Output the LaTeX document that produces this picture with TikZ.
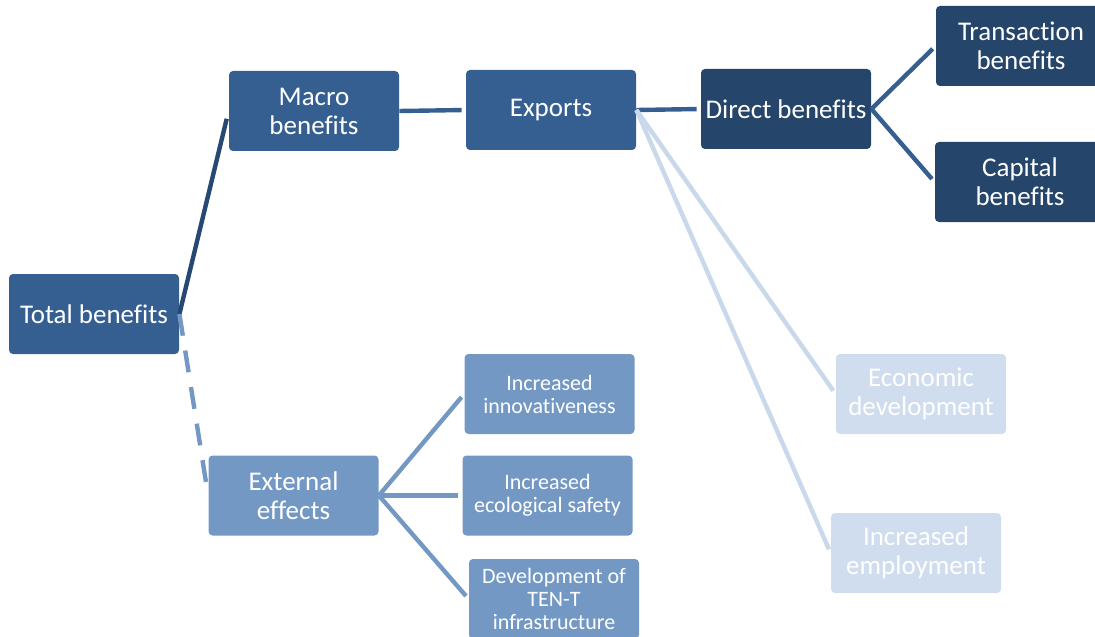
\documentclass[tikz,border=0pt]{standalone}
\usepackage{fontspec}
\setmainfont[Ligatures=NoCommon]{Carlito}
\usetikzlibrary{arrows.meta}

\definecolor{boxblue}{RGB}{54,95,145}
\definecolor{boxnavy}{RGB}{37,69,106}
\definecolor{boxmid}{RGB}{115,152,196}
\definecolor{boxpale}{RGB}{208,221,238}
\definecolor{linkdark}{RGB}{38,72,114}
\definecolor{linkpale}{RGB}{201,216,235}

\tikzset{
  box/.style={rectangle, rounded corners=2pt, minimum width=85pt, minimum height=40pt, inner sep=1pt, align=center, text=white, font=\fontsize{13.5}{14.5}\selectfont},
  smalltext/.style={font=\fontsize{11}{11.5}\selectfont},
  link/.style={line width=2.2pt, shorten >=2pt},
}

\begin{document}
\begin{tikzpicture}[x=0.5pt, y=-0.5pt]
\useasboundingbox (0,0) rectangle (1095,636);

\node[box, fill=boxblue] (total) at (94, 314) {Total benefits};
\node[box, fill=boxblue] (macro) at (314, 111) {Macro\\benefits};
\node[box, fill=boxblue] (exports) at (551, 110) {Exports};
\node[box, fill=boxnavy] (direct) at (786, 109) {Direct benefits};
\node[box, fill=boxnavy] (trans) at (1021, 46) {Transaction\\benefits};
\node[box, fill=boxnavy] (capital) at (1020, 182) {Capital\\benefits};
\node[box, fill=boxpale] (econ) at (921, 394) {Economic\\development};
\node[box, fill=boxpale] (employ) at (916, 553) {Increased\\employment};

\node[box, fill=boxmid] (external) at (293.5, 495.5) {External\\effects};
\node[box, smalltext, fill=boxmid] (innov) at (549.5, 394) {Increased\\innovativeness};
\node[box, smalltext, fill=boxmid] (ecol) at (547.5, 495.5) {Increased\\ecological safety};
\node[box, smalltext, fill=boxmid] (tent) at (554, 599) {Development of\\TEN-T\\infrastructure};

\draw[link, linkdark, shorten >=4pt] (total.east) -- (macro.west);
\draw[link, boxmid, dash pattern=on 11pt off 7.5pt, shorten >=6pt] (total.east) -- (external.west);
\draw[link, boxblue] (macro.east) -- (exports.west);
\draw[link, boxblue] (exports.east) -- (direct.west);
\draw[link, linkpale] (exports.east) -- (econ.west);
\draw[link, linkpale] (exports.east) -- (employ.west);
\draw[link, boxblue] (direct.east) -- (trans.west);
\draw[link, boxblue] (direct.east) -- (capital.west);
\draw[link, boxmid] (external.east) -- (innov.west);
\draw[link, boxmid] (external.east) -- (ecol.west);
\draw[link, boxmid] (external.east) -- (tent.west);
\end{tikzpicture}
\end{document}
